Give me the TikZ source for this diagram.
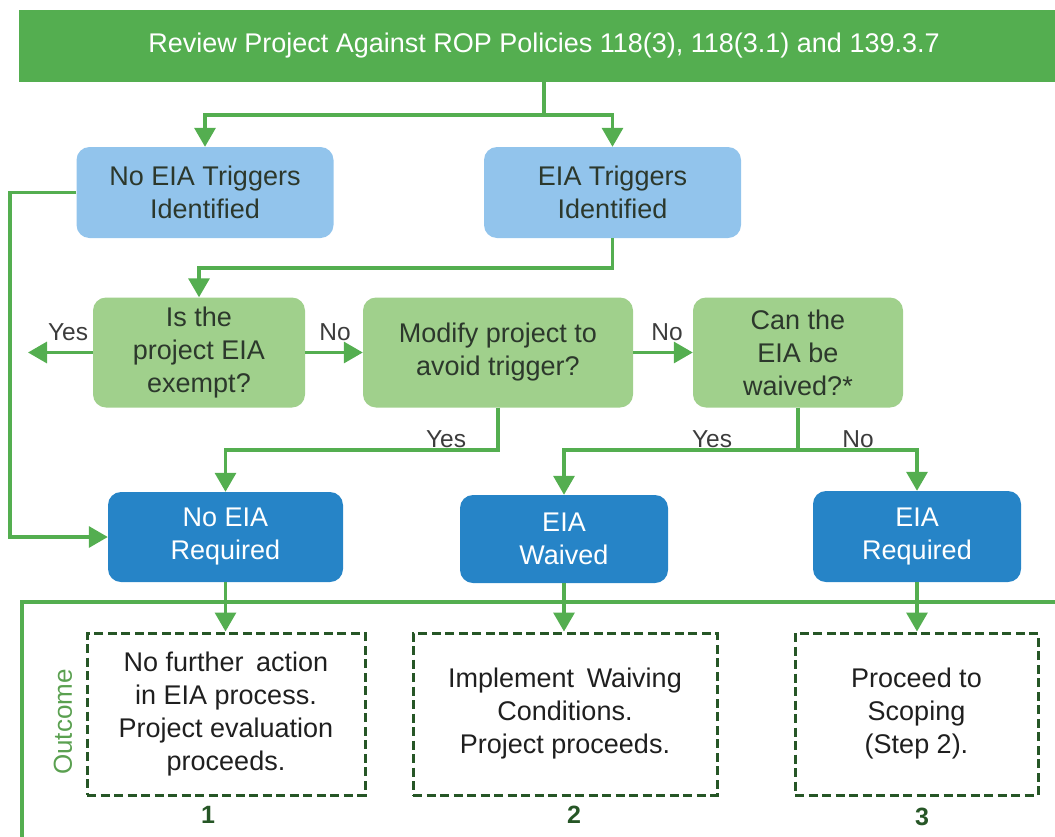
\documentclass[tikz,border=0pt]{standalone}
\usepackage{fontspec}
\setmainfont{Liberation Sans}
\usetikzlibrary{arrows.meta}
\definecolor{lgreen}{RGB}{84,174,80}
\definecolor{lblue}{RGB}{146,196,236}
\definecolor{dgreenbox}{RGB}{160,208,140}
\definecolor{dblue}{RGB}{38,132,199}
\definecolor{boxtext}{RGB}{44,56,44}
\definecolor{labtext}{RGB}{60,60,60}
\definecolor{dashc}{RGB}{38,86,38}
\definecolor{outc}{RGB}{90,160,80}
\begin{document}
\begin{tikzpicture}[x=1pt,y=-1pt,
  every node/.style={font=\fontsize{27}{33}\selectfont, align=center, inner sep=0pt},
  lbox/.style={rounded corners=13pt, fill=lblue, text=boxtext, minimum width=257pt, minimum height=91pt},
  qbox/.style={rounded corners=13pt, fill=dgreenbox, text=boxtext, minimum height=110pt},
  rbox/.style={rounded corners=13pt, fill=dblue, text=white, minimum width=208pt, minimum height=90pt},
  obox/.style={draw=dashc, line width=3pt, dash pattern=on 9pt off 4.5pt, text=black!88, minimum height=162pt},
  conn/.style={draw=lgreen, line width=3.3pt},
  arr/.style={conn, -{Triangle[length=19pt,width=21pt]}},
  lab/.style={text=labtext, font=\fontsize{24.5}{28}\selectfont},
  num/.style={text=dashc, font=\fontsize{25}{28}\selectfont\bfseries}
]
\useasboundingbox (0,0) rectangle (1055,836);
\fill[lgreen] (19,10) rectangle (1070,82);
\node[text=white] (banner) at (544,46) {Review Project Against ROP Policies 118(3), 118(3.1) and 139.3.7};
\coordinate (bs) at (544,82);

\node[lbox] (notrig) at (205,192.5) {No EIA Triggers\\Identified};
\node[lbox] (trig) at (612.5,192.5) {EIA Triggers\\Identified};

\node[qbox, minimum width=212pt] (is) at (199,352.5) {Is the\\project EIA\\exempt?};
\node[qbox, minimum width=270pt] (mod) at (498,352.5) {Modify project to\\avoid trigger?};
\node[qbox, minimum width=210pt] (can) at (798,352.5) {Can the\\EIA be\\waived?*};

\node[rbox, minimum width=235pt] (noreq) at (225.5,537) {No EIA\\Required};
\node[rbox, minimum height=88pt] (waived) at (564,539) {EIA\\Waived};
\node[rbox, minimum height=91pt] (req) at (917,536.5) {EIA\\Required};

\node[obox, minimum width=278pt] (o1) at (226,714) {No further\hspace{5pt} action\\in EIA process.\\Project evaluation\\proceeds.};
\node[obox, minimum width=304pt] (o2) at (565,714) {Implement\hspace{5pt} Waiving\\Conditions.\\Project proceeds.};
\node[obox, minimum width=243pt] (o3) at (916.5,714) {Proceed to\\Scoping\\(Step 2).};

\node[num] (n1) at (208,815) {1};
\node[num] (n2) at (574,815) {2};
\node[num] (n3) at (922,817) {3};

\node[text=outc, rotate=90, font=\fontsize{26}{30}\selectfont] (outcome) at (63,722) {Outcome};

% connectors
\coordinate (j1) at (544,115);
\draw[conn] (bs) -- (j1);
\draw[arr] (j1) -| (notrig.north);
\draw[arr] (j1) -| (trig.north);

\coordinate (j2) at (612.5,268);
\draw[arr] (trig.south) -- (j2) -| (is.north);

\coordinate (yesl) at (28,352.5);
\draw[arr] (is.west) -- (yesl);
\draw[arr] (is.east) -- (mod.west);
\draw[arr] (mod.east) -- (can.west);

\coordinate (j3) at (498,450);
\draw[arr] (mod.south) -- (j3) -| (noreq.north);

\coordinate (j4) at (798,450);
\draw[conn] (can.south) -- (j4);
\draw[arr] (j4) -| (waived.north);
\draw[arr] (j4) -| (req.north);

\coordinate (l1) at (10,192.5);
\coordinate (l2) at (10,537);
\draw[arr] (notrig.west) -- (l1) -- (l2) -- (noreq.west);

\draw[arr] (noreq.south) -- (noreq.south |- o1.north);
\draw[arr] (waived.south) -- (waived.south |- o2.north);
\draw[arr] (req.south) -- (req.south |- o3.north);

% outcome frame
\coordinate (f1) at (22,840);
\coordinate (f2) at (22,602);
\coordinate (f3) at (1060,602);
\draw[conn] (f1) -- (f2) -- (f3);

% labels
\node[lab, anchor=base] (ly1) at (68,340) {Yes};
\node[lab, anchor=base] (ln1) at (335,340) {No};
\node[lab, anchor=base] (ln2) at (667,340) {No};
\node[lab, anchor=base] (ly2) at (446,447) {Yes};
\node[lab, anchor=base] (ly3) at (712,447) {Yes};
\node[lab, anchor=base] (ln3) at (858,447) {No};
\end{tikzpicture}
\end{document}
